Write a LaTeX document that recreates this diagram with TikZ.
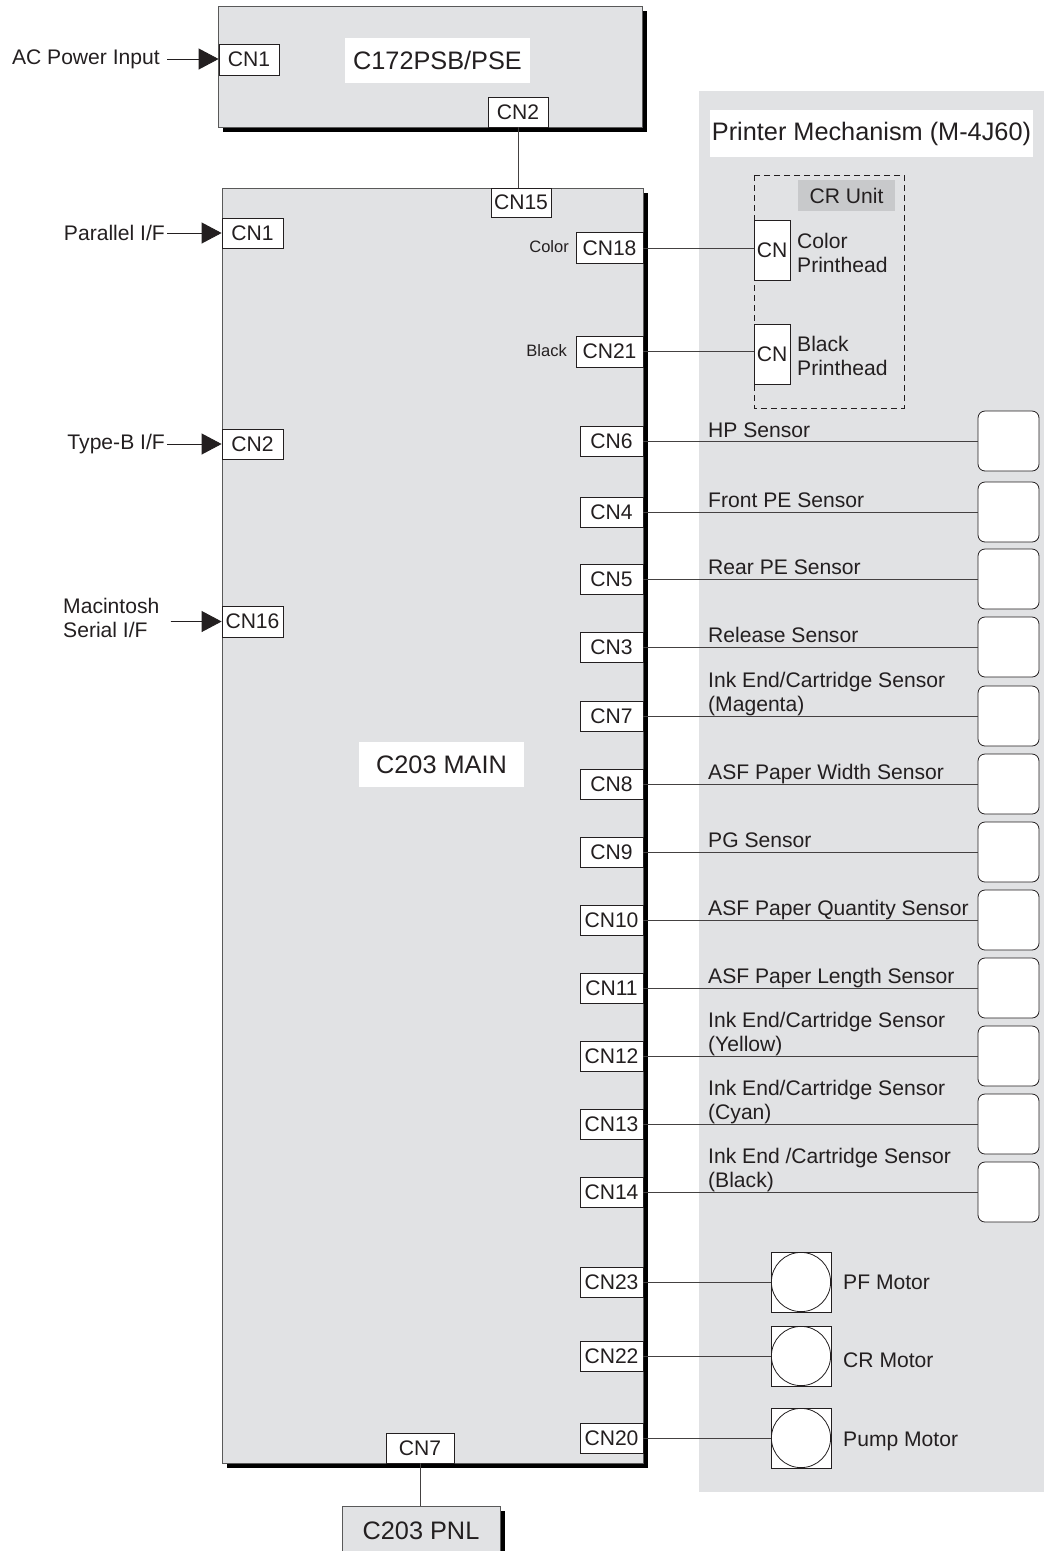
\documentclass[tikz,border=0pt]{standalone}
\usepackage{fontspec}
\setmainfont{Liberation Sans}
\usetikzlibrary{arrows.meta,shadows}

\definecolor{ink}{RGB}{35,31,32}
\definecolor{boardgray}{RGB}{225,226,228}
\definecolor{crgray}{RGB}{200,201,203}

\tikzset{
  board/.style={draw=black!65, fill=boardgray, line width=0.8pt, inner sep=0pt,
    font=\fontsize{25.3}{30}\selectfont,
    drop shadow={shadow xshift=5pt, shadow yshift=-5pt, fill=black, opacity=1}},
  title/.style={fill=white, inner sep=0pt, font=\fontsize{25.3}{30}\selectfont},
  cnbox/.style={draw=ink, fill=white, line width=0.8pt, inner sep=0pt,
    minimum width=63pt, minimum height=30pt},
  headcn/.style={cnbox, minimum width=36pt, minimum height=60pt},
  sensorbox/.style={draw=ink, fill=white, line width=0.8pt, rounded corners=7pt,
    minimum width=61pt, minimum height=60pt},
  motor/.style={draw=ink, fill=white, line width=0.8pt, inner sep=0pt, minimum size=60pt,
    path picture={\draw[ink, line width=0.8pt] (path picture bounding box.center) circle (29.6pt);}},
  sensortext/.style={anchor=base west, inner sep=0pt, align=left},
  wire/.style={draw=ink!85, line width=0.9pt},
  feed/.style={draw=ink, fill=ink, line width=0.9pt, -{Triangle[length=20pt,width=21pt]}}
}

\begin{document}
\begin{tikzpicture}[x=1pt,y=-1pt, every node/.style={font=\fontsize{21.1}{24}\selectfont, text=ink}]
\clip (0,0) rectangle (1044,1551);

% printer mechanism area
\fill[boardgray] (699,91) rectangle (1044,1492);
\node[title, minimum width=323pt, minimum height=47pt] (mechname) at (871.5,133.5) {Printer Mechanism (M-4J60)};

% power supply board
\node[board, minimum width=424pt, minimum height=121pt] (psb) at (430,66.5) {};
\node[title, minimum width=185pt, minimum height=45pt] (psbname) at (437.5,60.5) {C172PSB/PSE};
\node[cnbox, minimum width=60pt, minimum height=31pt] (psbcn1) at (249,59.5) {CN1};
\node[cnbox, minimum width=60pt] (psbcn2) at (518,112) {CN2};
\node[anchor=east, inner sep=0pt] (acin) at (160,59) {AC Power Input};
\draw[feed, shorten <=7pt] (acin.east) -- (acin.east -| psbcn1.west);

% main board
\node[board, minimum width=421pt, minimum height=1275pt] (main) at (432.5,825.5) {};
\node[title, minimum width=165pt, minimum height=45pt] (mainname) at (441.5,764.5) {C203 MAIN};
\node[cnbox, minimum width=60pt, minimum height=29pt] (cn15) at (521,202.5) {CN15};
\draw[wire] (psbcn2.south) -- (psbcn2.south |- cn15.north);

% host interfaces
\node[cnbox, minimum width=61pt] (cnpar) at (252.5,233) {CN1};
\node[cnbox, minimum width=61pt] (cntypeb) at (252.5,444) {CN2};
\node[cnbox, minimum width=61pt, minimum height=31pt] (cnmac) at (252.5,621.5) {CN16};
\node[anchor=east, inner sep=0pt] (parin) at (165,233) {Parallel I/F};
\node[anchor=east, inner sep=0pt] (typebin) at (165,444) {Type-B I/F};
\node[anchor=west, inner sep=0pt, align=left] (macin) at (63,618) {Macintosh\\Serial I/F};
\draw[feed, shorten <=2pt] (parin.east) -- (cnpar.west);
\draw[feed, shorten <=2pt] (typebin.east) -- (cntypeb.west);
\draw[feed, shorten <=11pt] (macin.east |- cnmac.west) -- (cnmac.west);

% panel board
\node[cnbox, minimum width=68pt] (cnpnl) at (420,1448) {CN7};
\node[board, anchor=north, minimum width=158pt, minimum height=48pt] (pnl) at (421,1506) {C203 PNL};
\draw[wire] (cnpnl.south) -- (cnpnl.south |- pnl.north);

% CR unit
\draw[ink, dash pattern=on 6pt off 4pt, line width=0.8pt] (754,175) rectangle (904,408);
\node[fill=crgray, inner sep=0pt, minimum width=97pt, minimum height=31pt] (crname) at (846.5,195.5) {CR Unit};
\node[headcn] (colorcn) at (772,250) {CN};
\node[headcn] (blackcn) at (772,354.5) {CN};
\node[anchor=west, inner sep=0pt, align=left] (colorhead) at (797,252.5) {Color\\Printhead};
\node[anchor=west, inner sep=0pt, align=left] (blackhead) at (797,356) {Black\\Printhead};
\node[cnbox, minimum width=67pt, minimum height=31pt] (cn18) at (609.5,248) {CN18};
\node[cnbox, minimum width=67pt, minimum height=31pt] (cn21) at (609.5,351.5) {CN21};
\node[anchor=east, inner sep=0pt, font=\fontsize{16.5}{20}\selectfont] (colortag) at (569,247) {Color};
\node[anchor=east, inner sep=0pt, font=\fontsize{16.5}{20}\selectfont] (blacktag) at (567,351) {Black};
\draw[wire] (cn18.east) -- (cn18.east -| colorcn.west);
\draw[wire] (cn21.east) -- (cn21.east -| blackcn.west);

% sensors
\node[cnbox] (cn6) at (611.5,441) {CN6};
\node[cnbox] (cn4) at (611.5,512) {CN4};
\node[cnbox] (cn5) at (611.5,579) {CN5};
\node[cnbox] (cn3) at (611.5,647) {CN3};
\node[cnbox] (cn7) at (611.5,716) {CN7};
\node[cnbox] (cn8) at (611.5,784) {CN8};
\node[cnbox] (cn9) at (611.5,852) {CN9};
\node[cnbox] (cn10) at (611.5,920) {CN10};
\node[cnbox] (cn11) at (611.5,988) {CN11};
\node[cnbox] (cn12) at (611.5,1056) {CN12};
\node[cnbox] (cn13) at (611.5,1124) {CN13};
\node[cnbox] (cn14) at (611.5,1192) {CN14};

\node[sensorbox] (hpsens) at (1008.5,441) {};
\node[sensorbox] (frontpe) at (1008.5,512) {};
\node[sensorbox] (rearpe) at (1008.5,579) {};
\node[sensorbox] (release) at (1008.5,647) {};
\node[sensorbox] (inkmag) at (1008.5,716) {};
\node[sensorbox] (asfwidth) at (1008.5,784) {};
\node[sensorbox] (pgsens) at (1008.5,852) {};
\node[sensorbox] (asfqty) at (1008.5,920) {};
\node[sensorbox] (asflen) at (1008.5,988) {};
\node[sensorbox] (inkyel) at (1008.5,1056) {};
\node[sensorbox] (inkcyan) at (1008.5,1124) {};
\node[sensorbox] (inkblack) at (1008.5,1192) {};

\draw[wire] (cn6.east) -- (hpsens.west);
\draw[wire] (cn4.east) -- (frontpe.west);
\draw[wire] (cn5.east) -- (rearpe.west);
\draw[wire] (cn3.east) -- (release.west);
\draw[wire] (cn7.east) -- (inkmag.west);
\draw[wire] (cn8.east) -- (asfwidth.west);
\draw[wire] (cn9.east) -- (pgsens.west);
\draw[wire] (cn10.east) -- (asfqty.west);
\draw[wire] (cn11.east) -- (asflen.west);
\draw[wire] (cn12.east) -- (inkyel.west);
\draw[wire] (cn13.east) -- (inkcyan.west);
\draw[wire] (cn14.east) -- (inkblack.west);

\node[sensortext] (hptext) at (708,437) {HP Sensor};
\node[sensortext] (frontpetext) at (708,507) {Front PE Sensor};
\node[sensortext] (rearpetext) at (708,574) {Rear PE Sensor};
\node[sensortext] (releasetext) at (708,642) {Release Sensor};
\node[sensortext] (inkmagtext) at (708,711) {Ink End/Cartridge Sensor\\(Magenta)};
\node[sensortext] (asfwidthtext) at (708,779) {ASF Paper Width Sensor};
\node[sensortext] (pgtext) at (708,847) {PG Sensor};
\node[sensortext] (asfqtytext) at (708,915) {ASF Paper Quantity Sensor};
\node[sensortext] (asflentext) at (708,983) {ASF Paper Length Sensor};
\node[sensortext] (inkyeltext) at (708,1051) {Ink End/Cartridge Sensor\\(Yellow)};
\node[sensortext] (inkcyantext) at (708,1119) {Ink End/Cartridge Sensor\\(Cyan)};
\node[sensortext] (inkblacktext) at (708,1187) {Ink End /Cartridge Sensor\\(Black)};

% motors
\node[cnbox] (cn23) at (611.5,1282) {CN23};
\node[cnbox] (cn22) at (611.5,1356) {CN22};
\node[cnbox] (cn20) at (611.5,1438) {CN20};
\node[motor] (pfmotor) at (801,1282) {};
\node[motor] (crmotor) at (801,1356) {};
\node[motor] (pumpmotor) at (801,1438) {};
\draw[wire] (cn23.east) -- (pfmotor.west);
\draw[wire] (cn22.east) -- (crmotor.west);
\draw[wire] (cn20.east) -- (pumpmotor.west);
\node[anchor=west, inner sep=0pt] (pftext) at (843,1282) {PF Motor};
\node[anchor=west, inner sep=0pt] (crtext) at (843,1360) {CR Motor};
\node[anchor=west, inner sep=0pt] (pumptext) at (843,1441) {Pump Motor};
\end{tikzpicture}
\end{document}
